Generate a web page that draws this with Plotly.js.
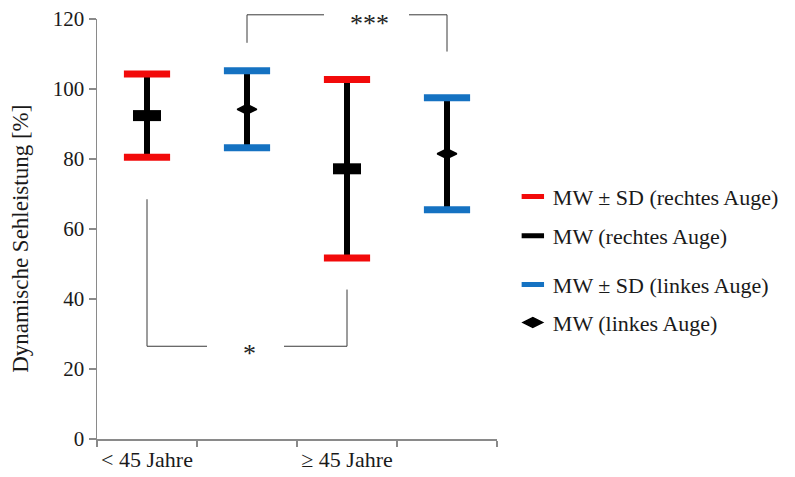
<!DOCTYPE html>
<html>
<head>
<meta charset="utf-8">
<script src="https://cdn.plot.ly/plotly-3.0.1.min.js"></script>
<style>
  html, body { margin: 0; padding: 0; background: #fff; }
  #chart { width: 795px; height: 477px; }
</style>
</head>
<body>
<div id="chart"></div>
<script>
// Age groups and the x positions of each eye's interval
const groupLabels = ['< 45 Jahre', '\u2265 45 Jahre'];
const groupCenters = [0.5, 2.5];
const xRight = [0.5, 2.5];   // rechtes Auge
const xLeft = [1.5, 3.5];    // linkes Auge

// Mittelwerte (MW) und Standardabweichungen (SD) der dynamischen Sehleistung in %
const meanRight = [92.4, 77.2];
const sdRight = [11.9, 25.5];
const meanLeft = [94.2, 81.5];
const sdLeft = [11.0, 16.0];

// Legend labels
const legendNames = [
  'MW \u00b1 SD (rechtes Auge)',
  'MW (rechtes Auge)',
  'MW \u00b1 SD (linkes Auge)',
  'MW (linkes Auge)'
];
const yTitle = 'Dynamische Sehleistung [%]';

const RED = '#f20a0a';
const BLUE = '#1572c2';
const BLACK = '#000000';
const AXIS = '#8a8a8a';
const BRACKET = '#3a3a3a';
const FONT = 'Liberation Serif';
const TEXT = '#1a1a1a';

// Cap positions (MW + SD and MW - SD) for each interval
function caps(xs, means, sds) {
  const x = [], y = [];
  xs.forEach((xv, i) => {
    x.push(xv, xv);
    y.push(means[i] + sds[i], means[i] - sds[i]);
  });
  return { x, y };
}
const capsRight = caps(xRight, meanRight, sdRight);
const capsLeft = caps(xLeft, meanLeft, sdLeft);

const traces = [
  // black SD lines with mean markers
  {
    type: 'scatter', mode: 'markers', name: legendNames[1], legend: 'legend2',
    x: xRight, y: meanRight,
    error_y: { type: 'data', array: sdRight, visible: true, color: BLACK, thickness: 6, width: 0 },
    marker: { symbol: 'line-ew', size: 20, color: BLACK, line: { color: BLACK, width: 11 } },
    hoverinfo: 'x+y'
  },
  {
    type: 'scatter', mode: 'markers', name: legendNames[3], legend: 'legend4',
    x: xLeft, y: meanLeft,
    error_y: { type: 'data', array: sdLeft, visible: true, color: BLACK, thickness: 6, width: 0 },
    marker: { symbol: 'diamond-wide', size: 14, color: BLACK, line: { color: BLACK, width: 1.5 } },
    hoverinfo: 'x+y'
  },
  // coloured caps at MW ± SD
  {
    type: 'scatter', mode: 'markers', name: legendNames[0], legend: 'legend',
    x: capsRight.x, y: capsRight.y,
    marker: { symbol: 'line-ew', size: 33, color: RED, line: { color: RED, width: 7 } },
    hoverinfo: 'x+y'
  },
  {
    type: 'scatter', mode: 'markers', name: legendNames[2], legend: 'legend3',
    x: capsLeft.x, y: capsLeft.y,
    marker: { symbol: 'line-ew', size: 33, color: BLUE, line: { color: BLUE, width: 7 } },
    hoverinfo: 'x+y'
  }
];

// Significance brackets
const line = { color: BRACKET, width: 1 };
const shapes = [
  // < 45 rechts vs >= 45 rechts (*)
  { type: 'line', xref: 'x', yref: 'y', x0: 0.5, x1: 0.5, y0: 68.5, y1: 26.5, line },
  { type: 'line', xref: 'x', yref: 'y', x0: 0.5, x1: 1.1, y0: 26.5, y1: 26.5, line },
  { type: 'line', xref: 'x', yref: 'y', x0: 1.87, x1: 2.5, y0: 26.5, y1: 26.5, line },
  { type: 'line', xref: 'x', yref: 'y', x0: 2.5, x1: 2.5, y0: 26.5, y1: 42.7, line },
  // < 45 links vs >= 45 links (***)
  { type: 'line', xref: 'x', yref: 'paper', x0: 1.5, x1: 1.5, y0: 113.2 / 120, y1: 121.2 / 120, line },
  { type: 'line', xref: 'x', yref: 'paper', x0: 1.5, x1: 2.27, y0: 121.2 / 120, y1: 121.2 / 120, line },
  { type: 'line', xref: 'x', yref: 'paper', x0: 3.12, x1: 3.5, y0: 121.2 / 120, y1: 121.2 / 120, line },
  { type: 'line', xref: 'x', yref: 'paper', x0: 3.5, x1: 3.5, y0: 121.2 / 120, y1: 110.7 / 120, line }
];

const annotations = [
  { text: '*', x: 1.52, y: 24.5, xref: 'x', yref: 'y', showarrow: false,
    font: { family: FONT, size: 26, color: '#222' }, xanchor: 'center', yanchor: 'middle' },
  { text: '***', x: 2.72, y: 118.8 / 120, xref: 'x', yref: 'paper', showarrow: false,
    font: { family: FONT, size: 26, color: '#222' }, xanchor: 'center', yanchor: 'middle' },
  // y-axis title
  { text: yTitle, textangle: -90, x: -0.192, y: 0.477, xref: 'paper', yref: 'paper',
    showarrow: false, xanchor: 'center', yanchor: 'middle',
    font: { family: FONT, size: 23, color: TEXT } }
];

function legendAt(y) {
  return {
    x: 1.037, y: y, xanchor: 'left', yanchor: 'middle',
    bgcolor: 'rgba(0,0,0,0)', borderwidth: 0, itemwidth: 30,
    font: { family: FONT, size: 22, color: TEXT }
  };
}

const layout = {
  width: 795, height: 477,
  margin: { l: 97, r: 297, t: 19.3, b: 37.7 },
  paper_bgcolor: '#fff', plot_bgcolor: '#fff',
  font: { family: FONT, color: TEXT },
  showlegend: true,
  legend: legendAt(0.577),
  legend2: legendAt(0.4836),
  legend3: legendAt(0.3674),
  legend4: legendAt(0.277),
  xaxis: {
    range: [0, 4], fixedrange: true,
    tickmode: 'array', tickvals: groupCenters, ticktext: groupLabels,
    ticks: '', showgrid: false, zeroline: false,
    showline: true, linecolor: AXIS, linewidth: 1.5,
    tickfont: { family: FONT, size: 22, color: TEXT },
    minor: { tickmode: 'array', tickvals: [0, 1, 2, 3, 4], ticks: 'outside', ticklen: 6,
             tickwidth: 1.5, tickcolor: AXIS, showgrid: false }
  },
  yaxis: {
    range: [0, 120], fixedrange: true,
    tickmode: 'linear', tick0: 0, dtick: 20,
    ticks: 'outside', ticklen: 7, tickwidth: 1.5, tickcolor: AXIS,
    showgrid: false, zeroline: false,
    showline: true, linecolor: AXIS, linewidth: 1.5,
    tickfont: { family: FONT, size: 21, color: TEXT }
  },
  shapes, annotations
};

Plotly.newPlot('chart', traces, layout, { displayModeBar: false, staticPlot: true });
</script>
</body>
</html>
